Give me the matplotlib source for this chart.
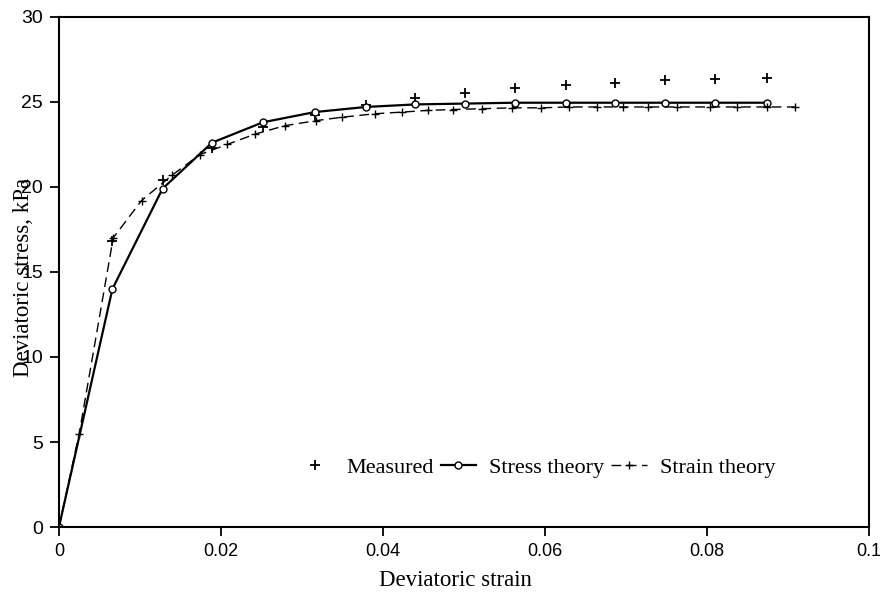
import matplotlib
matplotlib.use("Agg")
import matplotlib.pyplot as plt

# stress theory (solid, open circles)
stress_x = [0, 0.0066, 0.0128, 0.0189, 0.0252, 0.0316, 0.0379, 0.0440, 0.0502,
            0.0563, 0.0626, 0.0687, 0.0748, 0.0810, 0.0874]
stress_y = [0, 14.0, 19.9, 22.6, 23.8, 24.4, 24.7, 24.85, 24.9,
            24.95, 24.95, 24.95, 24.95, 24.95, 24.95]

# measured points
meas_x = stress_x
meas_y = [0, 16.8, 20.4, 22.3, 23.5, 24.2, 24.8, 25.2, 25.5,
          25.8, 26.0, 26.1, 26.3, 26.35, 26.4]

# strain theory (dashed, plus markers)
strain_x = [0, 0.0025, 0.0067, 0.0102, 0.0140, 0.0174, 0.0208, 0.0242, 0.0279,
            0.0318, 0.0350, 0.0390, 0.0424, 0.0456, 0.0487, 0.0523, 0.0560,
            0.0596, 0.0630, 0.0665, 0.0697, 0.0727, 0.0764, 0.0804, 0.0838,
            0.0874, 0.0909]
strain_y = [0, 5.5, 17.0, 19.2, 20.7, 21.9, 22.5, 23.1, 23.6,
            23.9, 24.1, 24.3, 24.4, 24.5, 24.55, 24.6, 24.65,
            24.65, 24.7, 24.7, 24.7, 24.7, 24.7, 24.7, 24.7,
            24.7, 24.7]

xticks = [0, 0.02, 0.04, 0.06, 0.08, 0.1]
xticklabels = ["0", "0.02", "0.04", "0.06", "0.08", "0.1"]
yticks = [0, 5, 10, 15, 20, 25, 30]

serif = ["Liberation Serif", "DejaVu Serif"]
sans = ["Liberation Sans", "DejaVu Sans"]

fig = plt.figure(figsize=(8.8, 6.01), dpi=100)
ax = fig.add_axes([0.067, 0.123, 0.920, 0.849])

ax.plot(meas_x, meas_y, linestyle="none", marker="+", color="black",
        markersize=7, markeredgewidth=1.3, label="Measured")
ax.plot(stress_x, stress_y, color="black", linewidth=1.6, marker="o",
        markersize=5, markerfacecolor="white", markeredgewidth=1.0,
        label="Stress theory")
ax.plot(strain_x, strain_y, color="black", linewidth=1.0, linestyle=(0, (7, 4)),
        marker="+", markersize=6, markeredgewidth=1.0, label="Strain theory")

ax.set_xlim(0, 0.1)
ax.set_ylim(0, 30)
ax.set_xticks(xticks)
ax.set_xticklabels(xticklabels)
ax.set_yticks(yticks)

for lbl in ax.get_xticklabels():
    lbl.set_family(sans)
    lbl.set_fontsize(13)
for lbl in ax.get_yticklabels():
    lbl.set_family(sans)
    lbl.set_fontsize(14)

ax.tick_params(axis="both", direction="out", length=6.5, width=1.3, pad=5, color="black")
for sp in ax.spines.values():
    sp.set_linewidth(1.5)

ax.set_xlabel("Deviatoric strain", family=serif, fontsize=16.5)
ax.set_ylabel("Deviatoric stress, kPa", family=serif, fontsize=16.5)
ax.xaxis.set_label_coords(0.49, -0.084)
ax.yaxis.set_label_coords(-0.031, 0.49)

ax.legend(loc="center", bbox_to_anchor=(0.59, 0.116), ncol=3, frameon=False,
          prop={"family": serif, "size": 16}, handlelength=1.6,
          handletextpad=0.6, columnspacing=0.3, borderpad=0)

fig.savefig("out.png", dpi=100)
